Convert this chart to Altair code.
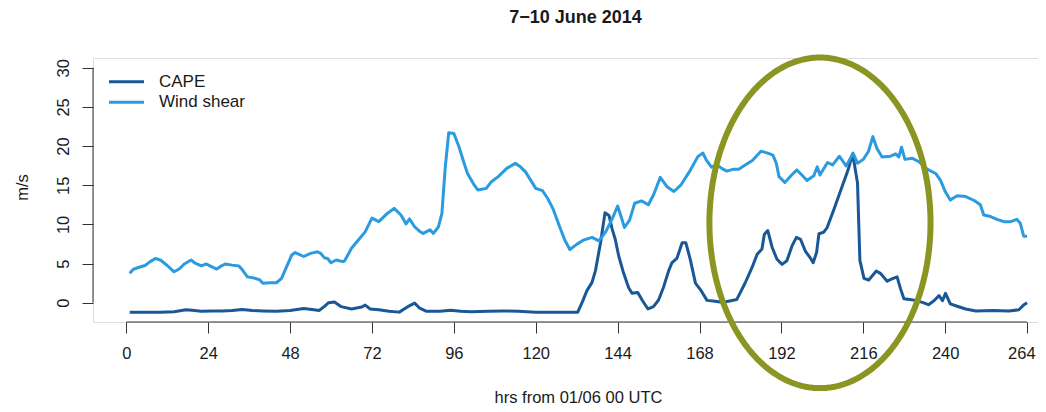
import altair as alt
import numpy as np
import pandas as pd

# ---------------- data ----------------
TITLE = "7\u221210 June 2014"
X_LABEL = "hrs from 01/06 00 UTC"
Y_LABEL = "m/s"
SERIES = ["CAPE", "Wind shear"]
X_TICKS = [0, 24, 48, 72, 96, 120, 144, 168, 192, 216, 240, 264]
Y_TICKS = [0, 5, 10, 15, 20, 25, 30]

CAPE_HRS = [1, 5, 10, 14, 17.5, 20, 22, 25, 28, 31, 34, 37, 40, 44, 48, 52, 55, 56.5, 58, 59.3,
            61, 63, 66, 69, 70, 71.5, 74, 77, 80, 82.5, 84.5, 86, 88, 92, 95, 98, 101, 106, 110.5,
            115, 120, 126, 132.3, 133.6, 135, 136.5, 137.5, 139, 140.3, 141.5, 142.4, 143.3, 144.3,
            145.7, 147.2, 148.2, 149.9, 151.3, 152.9, 154.5, 156, 157.5, 158.9, 159.9, 161.4, 162.9,
            164, 165.3, 166.8, 168.3, 170.2, 172.6, 174.6, 176.5, 178.9, 181.4, 183.4, 184.9, 186.3,
            187, 188, 189.3, 190.7, 192.2, 193.6, 195.1, 196.4, 197.6, 199, 200.5, 201.3, 202.3, 203,
            204.4, 205.4, 207.3, 209.5, 211.5, 212.9, 214.3, 215, 216.2, 217.6, 219.8, 221, 223,
            224.4, 225.9, 226.9, 227.9, 229.6, 231.3, 233.3, 235.1, 236.7, 238.2, 239.2, 240.1,
            241.5, 243.5, 246, 249, 254, 258.7, 261.6, 263.1, 264]
CAPE_VALS = [-1.2, -1.2, -1.2, -1.15, -0.9, -1.0, -1.1, -1.05, -1.05, -1.0, -0.85, -1.0, -1.05, -1.1,
             -1.0, -0.75, -0.9, -1.0, -0.5, 0.0, 0.1, -0.5, -0.8, -0.55, -0.3, -0.8, -0.9, -1.1, -1.2,
             -0.5, -0.05, -0.7, -1.1, -1.1, -0.95, -1.1, -1.15, -1.1, -1.05, -1.1, -1.2, -1.2, -1.2,
             0.05, 1.55, 2.6, 4.1, 7.7, 11.5, 11.1, 9.4, 8.1, 6.0, 3.85, 1.95, 1.2, 1.3, 0.25, -0.8,
             -0.5, 0.35, 2.05, 4.0, 5.1, 5.7, 7.65, 7.65, 5.5, 2.5, 1.65, 0.3, 0.2, 0.05, 0.2, 0.4,
             2.55, 4.5, 6.2, 6.85, 8.75, 9.2, 7.05, 5.55, 4.9, 5.35, 7.25, 8.35, 8.1, 6.6, 5.7, 5.1,
             6.4, 8.8, 9.0, 9.6, 11.8, 14.5, 16.9, 19.0, 15.3, 5.4, 3.1, 2.9, 4.05, 3.75, 2.75, 3.05,
             3.3, 1.8, 0.5, 0.4, 0.3, 0.05, -0.25, 0.25, 0.9, 0.25, 1.2, -0.15, -0.45, -0.8, -1.05,
             -1.0, -1.05, -0.9, -0.25, 0.0]

WIND_HRS = [1, 2, 3.5, 5.5, 7, 8.5, 10, 12, 14, 15.5, 17, 19, 20, 22, 23.5, 24.5, 26.5, 27.5, 29, 31,
            33, 34, 35.5, 37, 39, 40, 42, 44, 45.5, 47, 48.5, 49.5, 50.5, 52, 54, 56, 57, 58, 59, 60,
            61.5, 63.5, 64, 66, 68, 70, 72, 74, 76.5, 78.5, 80.5, 82, 83, 84.5, 86, 87, 89, 90, 91.5,
            92.5, 93.5, 94.5, 96, 97.5, 99, 100, 102, 103, 105.5, 107, 109, 111.5, 114, 115.5, 117,
            118.5, 120, 122, 123.5, 125, 127, 128.5, 130, 132, 134, 136.5, 138.5, 140.5, 142.5, 144,
            145, 146, 147.5, 149, 151, 153, 154.5, 156.5, 158.5, 160.5, 162.5, 165, 167.5, 169, 170,
            171.5, 173, 174.5, 176, 178, 179.5, 181.5, 183.5, 186, 188, 189.5, 190.5, 191.3, 193,
            195, 196.5, 198, 199.5, 201.5, 202.5, 203.3, 205.5, 207, 209, 211, 213, 214.3, 216,
            217.5, 218.8, 220, 221.5, 224, 225.5, 226.4, 227.2, 228.2, 230.3, 232.3, 234.7, 237.2,
            238.6, 240, 241.5, 243.5, 246, 248.5, 250.3, 251.3, 253.3, 255.2, 257.2, 259.2, 261, 262,
            263, 264]
WIND_VALS = [3.75, 4.25, 4.5, 4.75, 5.25, 5.65, 5.45, 4.75, 3.95, 4.3, 4.95, 5.45, 5.1, 4.7, 4.95, 4.7,
             4.3, 4.6, 4.95, 4.8, 4.7, 4.2, 3.3, 3.2, 2.95, 2.5, 2.55, 2.55, 3.1, 4.6, 6.1, 6.4, 6.2,
             5.9, 6.3, 6.5, 6.3, 5.75, 5.65, 5.1, 5.45, 5.25, 5.35, 6.95, 8.0, 9.05, 10.8, 10.35, 11.4,
             12.05, 11.2, 10.05, 10.7, 9.7, 9.1, 8.85, 9.3, 8.85, 9.7, 11.4, 17.4, 21.7, 21.6, 19.9,
             17.8, 16.5, 15.0, 14.4, 14.6, 15.45, 16.1, 17.15, 17.8, 17.35, 16.7, 15.65, 14.6, 14.3,
             13.3, 12.05, 9.7, 8.0, 6.8, 7.45, 8.0, 8.35, 7.9, 9.05, 10.8, 12.35, 11.0, 9.6, 10.55,
             12.7, 13.0, 12.5, 13.75, 16.0, 14.8, 14.2, 15.0, 16.7, 18.65, 19.1, 18.2, 17.3, 17.6,
             17.15, 16.8, 17.05, 17.05, 17.6, 18.15, 19.35, 19.1, 18.85, 17.8, 16.1, 15.35, 16.3,
             16.95, 16.3, 15.6, 16.2, 17.35, 16.3, 17.9, 17.6, 18.7, 17.45, 19.1, 17.8, 18.3, 19.3,
             21.2, 19.7, 18.6, 18.7, 19.0, 18.6, 19.85, 18.3, 18.45, 18.0, 17.05, 16.5, 15.65, 14.2,
             13.1, 13.65, 13.55, 13.05, 12.5, 11.2, 11.0, 10.65, 10.35, 10.35, 10.65, 10.15, 8.5, 8.5]

# highlighted region (ellipse annotation), in data units
ELLIPSE_CENTER = (203.3, 10.2)
ELLIPSE_RADII = (32.4, 21.1)

# ---------------- styling ----------------
FONT = "Liberation Sans"
CAPE_COLOR = "#1a5796"
WIND_COLOR = "#2b9be0"
ELLIPSE_COLOR = "#8a9522"
AXIS_COLOR = "#333333"
TEXT_COLOR = "#1a1a1a"
W, H = 945, 264
X_DOMAIN = [-9.76, 267.2]
Y_DOMAIN = [-2.46, 31.24]

x_scale = alt.Scale(domain=X_DOMAIN, nice=False, zero=False)
y_scale = alt.Scale(domain=Y_DOMAIN, nice=False, zero=False)

x_axis = alt.Axis(values=X_TICKS, domain=False, grid=False, tickSize=11, tickColor=AXIS_COLOR,
                  tickWidth=1, labelFont=FONT, labelFontSize=16.5, labelColor=TEXT_COLOR,
                  labelPadding=12, labelBaseline="top", labelAngle=0, labelFlush=15,
                  labelFlushOffset=8, labelOverlap=False, title=X_LABEL, titleFont=FONT,
                  titleFontSize=16.5, titleFontWeight="normal", titleColor=TEXT_COLOR,
                  titleX=485, titleY=80, titleAlign="center", titleBaseline="alphabetic")
y_axis = alt.Axis(values=Y_TICKS, domain=False, grid=False, tickSize=11, tickColor=AXIS_COLOR,
                  tickWidth=1, labelFont=FONT, labelFontSize=16.5, labelColor=TEXT_COLOR,
                  labelPadding=14, labelAngle=270, labelAlign="center", labelBaseline="alphabetic",
                  labelFlush=False, labelOverlap=False, title=Y_LABEL, titleFont=FONT,
                  titleFontSize=16.5, titleFontWeight="normal", titleColor=TEXT_COLOR,
                  titleAngle=270, titleX=-71, titleY=H / 2 - 3, titleAlign="center",
                  titleBaseline="middle")

cape_df = pd.DataFrame({"hrs": CAPE_HRS, "val": CAPE_VALS})
wind_df = pd.DataFrame({"hrs": WIND_HRS, "val": WIND_VALS})

t = np.linspace(0, 2 * np.pi, 241)
ell_df = pd.DataFrame({
    "hrs": ELLIPSE_CENTER[0] + ELLIPSE_RADII[0] * np.cos(t),
    "val": ELLIPSE_CENTER[1] + ELLIPSE_RADII[1] * np.sin(t),
    "i": np.arange(len(t)),
})


def xy(df_chart):
    return df_chart.encode(
        x=alt.X("hrs:Q", scale=x_scale, axis=x_axis),
        y=alt.Y("val:Q", scale=y_scale, axis=y_axis),
    )


cape_line = xy(alt.Chart(cape_df).mark_line(color=CAPE_COLOR, strokeWidth=3, strokeJoin="round"))
wind_line = xy(alt.Chart(wind_df).mark_line(color=WIND_COLOR, strokeWidth=3, strokeJoin="round"))
ellipse = alt.Chart(ell_df).mark_line(color=ELLIPSE_COLOR, strokeWidth=6, clip=False).encode(
    x=alt.X("hrs:Q", scale=x_scale, axis=x_axis),
    y=alt.Y("val:Q", scale=y_scale, axis=y_axis),
    order="i:Q",
)

# R-style axis lines spanning first to last tick
x_axis_line = alt.Chart(pd.DataFrame({"a": [X_TICKS[0]], "b": [X_TICKS[-1]]})).mark_rule(
    color=AXIS_COLOR, strokeWidth=1).encode(
    x=alt.X("a:Q", scale=x_scale, axis=x_axis), x2="b:Q", y=alt.value(H))
y_axis_line = alt.Chart(pd.DataFrame({"a": [Y_TICKS[0]], "b": [Y_TICKS[-1]]})).mark_rule(
    color=AXIS_COLOR, strokeWidth=1).encode(
    y=alt.Y("a:Q", scale=y_scale, axis=y_axis), y2="b:Q", x=alt.value(0))

# manual legend (top-left, inside plot)
legend_src = pd.DataFrame({"k": [0]})
legend_layers = []
for name, color, ly in [(SERIES[0], CAPE_COLOR, 23.7), (SERIES[1], WIND_COLOR, 44.3)]:
    legend_layers.append(
        alt.Chart(legend_src).mark_rule(color=color, strokeWidth=3).encode(
            x=alt.value(16), x2=alt.value(51), y=alt.value(ly)))
    legend_layers.append(
        alt.Chart(legend_src).mark_text(align="left", baseline="middle", font=FONT, fontSize=17,
                                        color=TEXT_COLOR).encode(
            x=alt.value(66), y=alt.value(ly), text=alt.value(name)))

chart = alt.layer(
    x_axis_line, y_axis_line, cape_line, wind_line, ellipse, *legend_layers
).properties(
    width=W, height=H,
    title=alt.TitleParams(TITLE, font=FONT, fontSize=18, fontWeight="bold", color=TEXT_COLOR,
                          anchor="middle", dx=10, offset=5, baseline="alphabetic"),
    autosize=alt.AutoSizeParams(type="none"),
    padding={"left": 85, "top": 50, "right": 0, "bottom": 82},
).configure_view(stroke=None).configure(background="white")

chart.save("out.html", embed_options={"renderer": "svg", "actions": False})
